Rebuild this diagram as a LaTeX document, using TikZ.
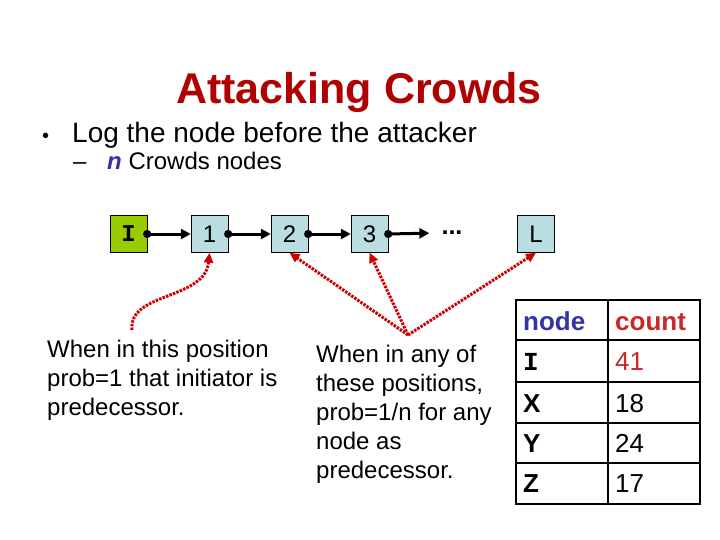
\documentclass[tikz,border=0pt]{standalone}
\usepackage{fontspec}
\setmainfont{Liberation Sans}
\newfontfamily\courfont{Liberation Mono}
\usetikzlibrary{arrows.meta}
\definecolor{titlered}{HTML}{B00000}
\definecolor{hopfill}{HTML}{B9DDE1}
\definecolor{inifill}{HTML}{99CC00}
\definecolor{hintred}{HTML}{D00000}
\definecolor{headblue}{HTML}{3333A8}
\definecolor{countred}{HTML}{C82828}

\begin{document}
\begin{tikzpicture}[x=1pt, y=-1pt,
  hop/.style={draw=black, fill=hopfill, minimum size=37pt, inner sep=0pt, font=\fontsize{24}{24}\selectfont},
  link/.style={line width=3pt, {Circle[length=8pt]}-{Triangle[length=10pt,width=10pt]}, shorten <=-4pt},
  hint/.style={hintred, line width=3pt, dash pattern=on 2.5pt off 1.2pt, -{Triangle[length=10pt,width=9pt]}},
  say/.style={anchor=base west, align=left, inner sep=0pt, font=\fontsize{24}{29}\selectfont},
  cell/.style={anchor=base west, inner sep=0pt, font=\fontsize{26}{26}\selectfont},
]
\useasboundingbox (0,0) rectangle (720,540);

% title and bullets
\node[anchor=base, inner sep=0pt, text=titlered, font=\fontsize{43}{43}\selectfont\bfseries] (title) at (359,104) {Attacking Crowds};
\node[anchor=base west, inner sep=0pt, font=\fontsize{20}{20}\selectfont] (b1) at (42,143) {•};
\node[anchor=base west, inner sep=0pt, font=\fontsize{28}{28}\selectfont] (t1) at (72,143) {Log the node before the attacker};
\node[anchor=base west, inner sep=0pt, font=\fontsize{24}{24}\selectfont] (b2) at (73,170) {–};
\node[anchor=base west, inner sep=0pt, font=\fontsize{24}{24}\selectfont] (t2) at (107,170) {\textcolor{headblue}{\textbf{\textit{n}}} Crowds nodes};

% the path
\node[hop, fill=inifill, font=\fontsize{24}{24}\selectfont\courfont\bfseries] (ini) at (128.5,234) {I};
\node[hop] (one) at (209.5,234) {1};
\node[hop] (two) at (289.5,234) {2};
\node[hop] (three) at (369.5,234) {3};
\node[inner sep=0pt, anchor=base, font=\fontsize{25}{25}\selectfont\bfseries] (dots) at (452,235) {...};
\node[hop] (last) at (536,234) {L};
\draw[link] (ini.east) -- (one.west);
\draw[link] (one.east) -- (two.west);
\draw[link] (two.east) -- (three.west);
\draw[link] (three.east) -- ([xshift=-12pt]dots.west);

% explanations
\node[say] (left) at (47,415) {When in this position\\prob=1 that initiator is\\predecessor.};
\node[say] (mid) at (316,478) {When in any of\\these positions,\\prob=1/n for any\\node as\\predecessor.};
\coordinate (c1) at (132,330);
\coordinate (c2) at (408,335);
\draw[hint] (c1) .. controls (128,292) and (205,300) .. (one.south);
\draw[hint] (c2) -- (two.south);
\draw[hint] (c2) -- (three.south);
\draw[hint] (c2) -- (last.south);

% counts
\draw[line width=1.5pt] (516,300) rectangle (700,504);
\draw[line width=1.5pt] (608,300) -- (608,504);
\foreach \y in {340,382,423,463}
  \draw[line width=1.5pt] (516,\y) -- (700,\y);
\node[cell, text=headblue] (hnode) at (523,330) {\textbf{node}};
\node[cell, text=countred] (hcount) at (615,330) {\textbf{count}};
\node[cell, font=\fontsize{26}{26}\selectfont\courfont\bfseries] (kI) at (523,370) {I};
\node[cell, text=countred] (nI) at (615,370) {41};
\foreach \lab/\num/\y in {X/18/412, Y/24/452, Z/17/492} {
  \node[cell] (k\lab) at (523,\y) {\textbf{\lab}};
  \node[cell] (n\lab) at (615,\y) {\num};
}
\end{tikzpicture}
\end{document}
